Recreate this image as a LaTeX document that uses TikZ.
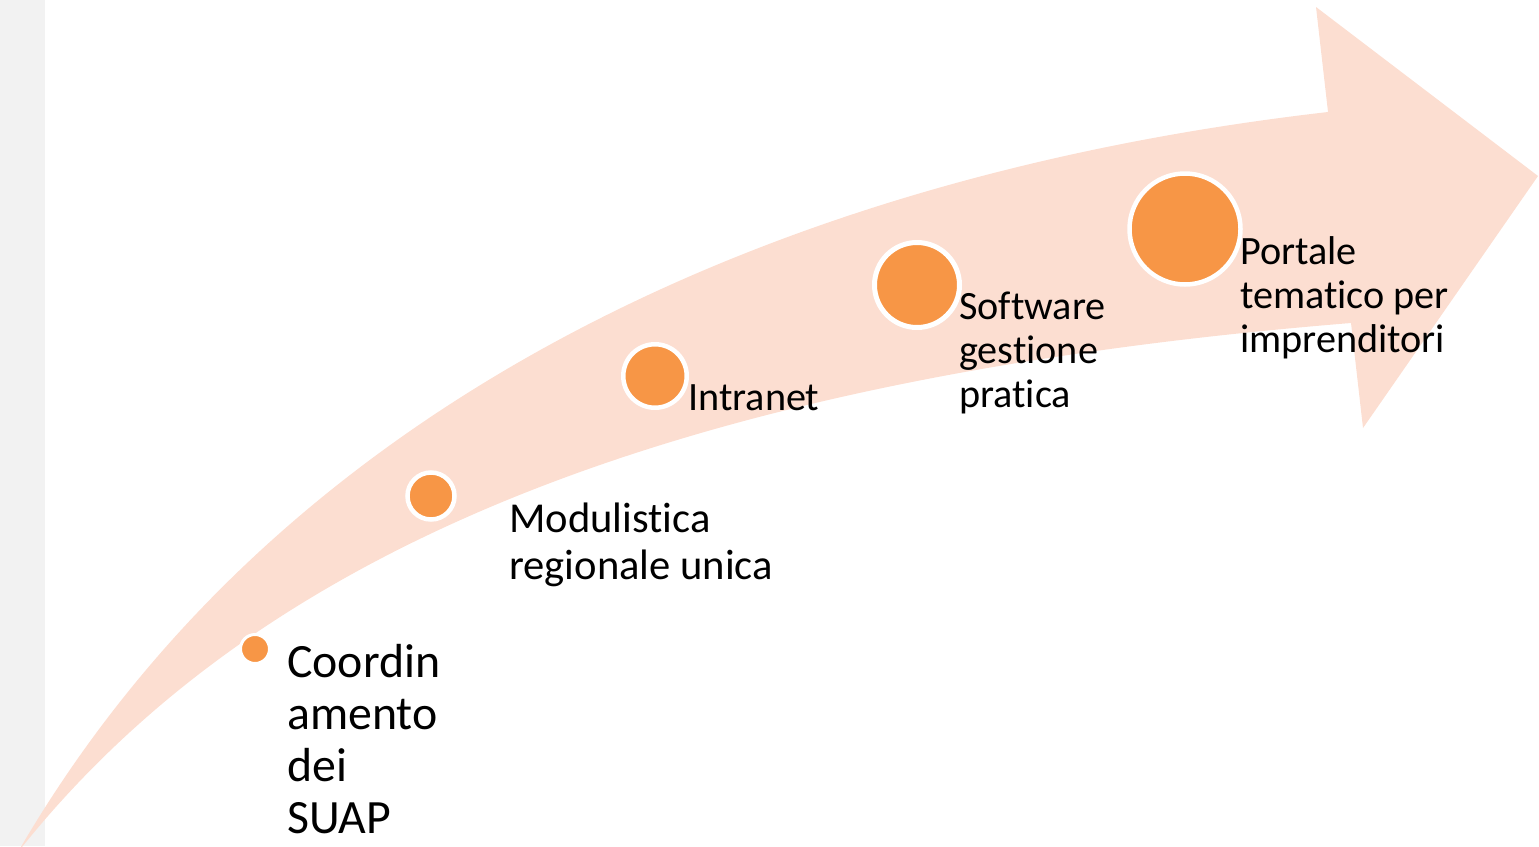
\documentclass[tikz,border=0pt]{standalone}
\usepackage{fontspec}
\setmainfont[Ligatures=NoCommon]{Carlito}
\usetikzlibrary{positioning}
\definecolor{peach}{RGB}{252,222,209}
\definecolor{dotorange}{RGB}{247,150,70}
\definecolor{sidegray}{RGB}{242,242,242}
\tikzset{dot/.style={circle,fill=dotorange,draw=white,line width=4.5pt,inner sep=0pt}}
\tikzset{lbl/.style={anchor=base west,align=left,inner sep=0pt,text=black}}

\begin{document}
\begin{tikzpicture}[x=1pt,y=-1pt]
    \useasboundingbox (0,0) rectangle (1539,846);
    \fill[sidegray] (0,0) rectangle (45,846);
    % curved arrow
    \fill[peach] (18,852) .. controls (280,400) and (780,175) .. (1328,112)
        -- (1316,7) -- (1538,176) -- (1363,428) -- (1351,323)
        .. controls (650,380) and (250,560) .. (18,852);
    % steps
    \node[dot,minimum size=29pt,line width=3pt] (suap) at (255,649) {};
    \node[dot,minimum size=47pt] (modul) at (431,496) {};
    \node[dot,minimum size=63.5pt] (intra) at (655,376) {};
    \node[dot,minimum size=85pt,line width=5pt] (softw) at (917,285) {};
    \node[dot,minimum size=111pt] (portal) at (1185,229) {};
    % labels (anchored at the last line)
    \node[lbl,font=\fontsize{47.8}{52}\selectfont] (suaptxt) at (287,833) {Coordin\\amento\\dei\\SUAP};
    \node[lbl,font=\fontsize{42.6}{46.5}\selectfont] (modultxt) at (509,579) {Modulistica\\regionale unica};
    \node[lbl,font=\fontsize{40.2}{44}\selectfont] (intratxt) at (688,410) {Intranet};
    \node[lbl,font=\fontsize{40.2}{44}\selectfont] (softwtxt) at (959,407) {Software\\gestione\\pratica};
    \node[lbl,font=\fontsize{40.2}{44}\selectfont] (portaltxt) at (1240,352) {Portale\\tematico per\\imprenditori};
\end{tikzpicture}
\end{document}
